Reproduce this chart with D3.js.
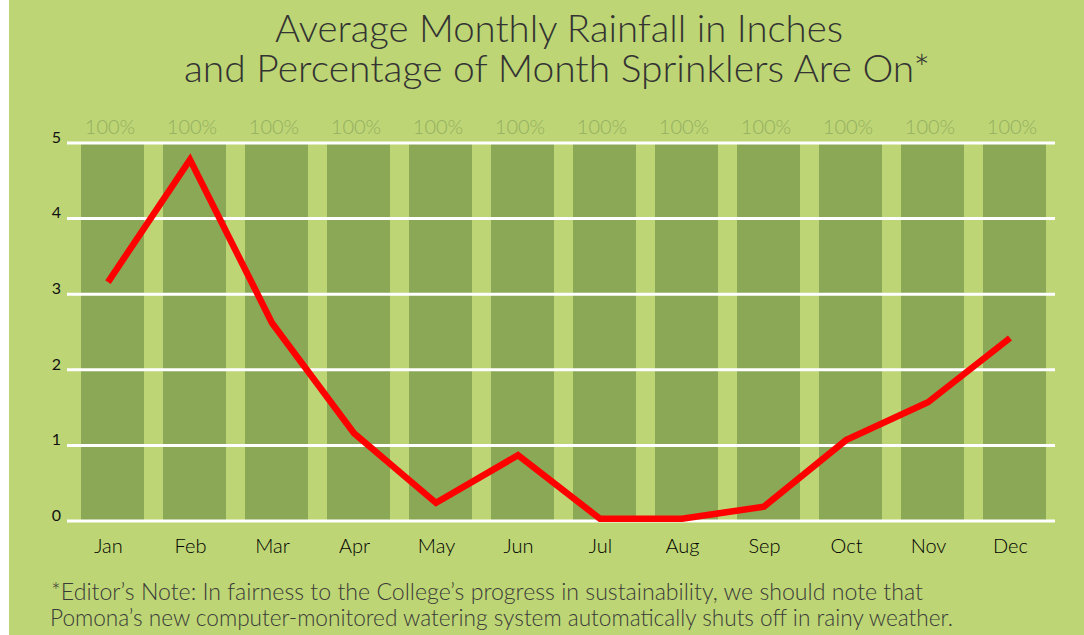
<!DOCTYPE html>
<html>
<head>
<meta charset="utf-8">
<script src="https://cdn.jsdelivr.net/npm/d3@7"></script>
<style>
  body { margin: 0; background: #ffffff; }
  svg { display: block; }
</style>
</head>
<body>
<script>
"use strict";

// chart values
const months = ["Jan", "Feb", "Mar", "Apr", "May", "Jun", "Jul", "Aug", "Sep", "Oct", "Nov", "Dec"];
const rainfall = [3.16, 4.78, 2.62, 1.16, 0.24, 0.87, 0.03, 0.03, 0.19, 1.07, 1.57, 2.42];
const sprinklerPct = [100, 100, 100, 100, 100, 100, 100, 100, 100, 100, 100, 100];
const yTicks = [0, 1, 2, 3, 4, 5];
const titleLines = ["Average Monthly Rainfall in Inches", "and Percentage of Month Sprinklers Are On*"];
const noteLines = [
    "*Editor\u2019s Note: In fairness to the College\u2019s progress in sustainability, we should note that",
    "Pomona\u2019s new computer-monitored watering system automatically shuts off in rainy weather."
];

const msm = { width: 1084, height: 635 }
const plot = { top: 143, bottom: 521, left: 67, right: 1055 }
const font = "Lato, 'Open Sans', sans-serif"

const svg = d3.select('body').append('svg')
    .attr('width', msm.width)
    .attr('height', msm.height)

// background, with the thin white strip on the left
svg.append('rect')
    .attr('x', 9).attr('y', 0)
    .attr('width', msm.width - 9).attr('height', msm.height)
    .attr('fill', '#bdd574')

// scales
const xBand = d3.scaleBand()
    .domain(months)
    .range([71.5, 1055.5])
    .paddingInner(0.232)
    .paddingOuter(0.116)

// line points and month labels sit a little left of the bar centres
const xPoint = d3.scalePoint()
    .domain(months)
    .range([108, 1010])

const yScale = d3.scaleLinear()
    .domain([0, 5])
    .range([plot.bottom, plot.top])

const pctScale = d3.scaleLinear()
    .domain([0, 100])
    .range([plot.bottom, plot.top])

// sprinkler bars
svg.selectAll('.bar').data(months)
    .enter()
    .append('rect')
        .attr('class', 'bar')
        .attr('x', d => xBand(d))
        .attr('y', (d, i) => pctScale(sprinklerPct[i]))
        .attr('width', xBand.bandwidth())
        .attr('height', (d, i) => plot.bottom - pctScale(sprinklerPct[i]))
        .attr('fill', '#8ba856')

// gridlines
svg.selectAll('.grid').data(yTicks)
    .enter()
    .append('line')
        .attr('x1', plot.left)
        .attr('x2', plot.right)
        .attr('y1', d => yScale(d))
        .attr('y2', d => yScale(d))
        .attr('stroke', '#ffffff')
        .attr('stroke-width', 3)

// y axis labels (no axis line)
const yAxis = svg.append('g')
    .attr('transform', 'translate(' + plot.left + ',0)')
    .call(d3.axisLeft(yScale).tickValues(yTicks).tickSize(0).tickPadding(6).tickFormat(d3.format('d')))
yAxis.select('.domain').remove()
yAxis.selectAll('text')
    .attr('dy', '-0.05em')
    .style('font-family', font)
    .style('font-size', '16px')
    .attr('fill', '#111')

// x axis labels
const xAxis = svg.append('g')
    .attr('transform', 'translate(0,' + plot.bottom + ')')
    .call(d3.axisBottom(xPoint).tickSize(0).tickPadding(18))
xAxis.select('.domain').remove()
xAxis.selectAll('text')
    .attr('dy', '0.71em')
    .style('font-family', font)
    .style('font-weight', 300)
    .style('font-size', '20px')
    .attr('fill', '#000')

// percentage labels above bars
svg.selectAll('.pct').data(months)
    .enter()
    .append('text')
        .attr('x', d => xPoint(d) + 2)
        .attr('y', 134)
        .attr('text-anchor', 'middle')
        .style('font-family', font)
        .style('font-weight', 300)
        .style('font-size', '20px')
        .attr('fill', '#94af62')
        .text((d, i) => sprinklerPct[i] + '%')

// rainfall line
const line = d3.line()
    .x((d, i) => xPoint(months[i]))
    .y(d => yScale(d))

svg.append('path')
    .datum(rainfall)
    .attr('d', line)
    .attr('fill', 'none')
    .attr('stroke', '#ff0000')
    .attr('stroke-width', 6.5)
    .attr('stroke-linejoin', 'miter')

// title, one text with a tspan per line
const titleFit = [[275, 568, 42], [184, 746, 82]]
svg.append('text')
    .style('font-family', font)
    .style('font-weight', 300)
    .style('font-size', '37px')
    .attr('fill', '#333')
    .selectAll('tspan').data(titleLines)
    .enter()
    .append('tspan')
        .attr('x', (d, i) => titleFit[i][0])
        .attr('y', (d, i) => titleFit[i][2])
        .attr('textLength', (d, i) => titleFit[i][1])
        .attr('lengthAdjust', 'spacingAndGlyphs')
        .text(d => d)

// editor's note
const noteFit = [[51, 872, 600], [50, 903, 626]]
svg.append('text')
    .style('font-family', font)
    .style('font-weight', 300)
    .style('font-size', '23px')
    .attr('fill', '#3a3a3a')
    .selectAll('tspan').data(noteLines)
    .enter()
    .append('tspan')
        .attr('x', (d, i) => noteFit[i][0])
        .attr('y', (d, i) => noteFit[i][2])
        .attr('textLength', (d, i) => noteFit[i][1])
        .attr('lengthAdjust', 'spacingAndGlyphs')
        .text(d => d)
</script>
</body>
</html>
